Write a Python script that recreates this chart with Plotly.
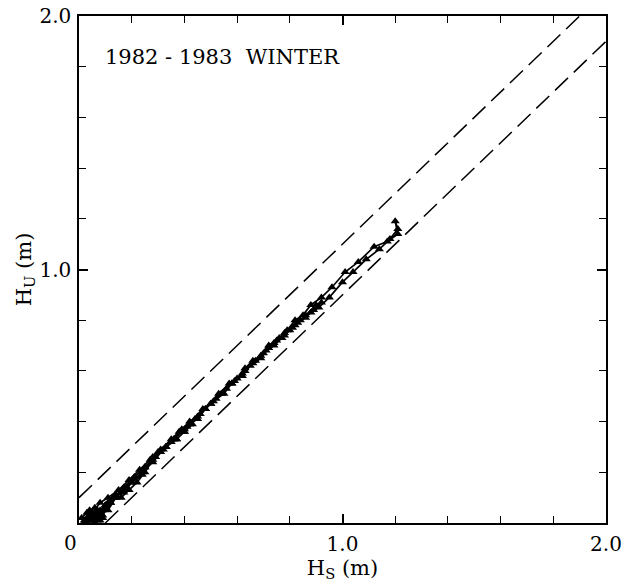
import plotly.graph_objects as go

# Time-ordered trajectory of H_S (x) vs H_U (y), metres
HS = [0.02, 0.04, 0.03, 0.06, 0.05, 0.08, 0.07, 0.10, 0.09, 0.12, 0.11, 0.14, 0.16, 0.19, 0.22,
      0.25, 0.28, 0.30, 0.33, 0.37, 0.40, 0.42, 0.45, 0.48, 0.51, 0.55, 0.58, 0.62, 0.65, 0.69,
      0.72, 0.75, 0.78, 0.81, 0.84, 0.88, 0.91, 0.95, 1.00, 1.04, 1.09, 1.14, 1.18, 1.21, 1.20,
      1.21, 1.17, 1.12, 1.06, 1.01, 0.96, 0.92, 0.88, 0.85, 0.82, 0.79, 0.76, 0.72, 0.69, 0.66,
      0.63, 0.60, 0.57, 0.53, 0.50, 0.47, 0.44, 0.41, 0.38, 0.35, 0.31, 0.28, 0.24, 0.20, 0.17,
      0.13, 0.10, 0.07, 0.05, 0.03, 0.05, 0.08, 0.11, 0.15, 0.19, 0.23, 0.27, 0.31, 0.35, 0.39,
      0.42, 0.46, 0.50, 0.54, 0.58, 0.62, 0.66, 0.70, 0.74, 0.78, 0.82, 0.86, 0.90, 0.92, 0.89,
      0.86, 0.83, 0.80, 0.77, 0.74, 0.71, 0.67, 0.63, 0.59, 0.56, 0.52, 0.48, 0.45, 0.42, 0.39,
      0.36, 0.33, 0.29, 0.25, 0.21, 0.17, 0.13, 0.10, 0.07, 0.04, 0.06, 0.09, 0.12, 0.16, 0.20,
      0.24, 0.28, 0.32, 0.36, 0.40, 0.43, 0.40, 0.37, 0.33, 0.29, 0.25, 0.21, 0.18, 0.14, 0.11,
      0.08, 0.06, 0.04, 0.02, 0.03, 0.05, 0.07, 0.09, 0.06, 0.04, 0.01, 0.03, 0.06, 0.08, 0.05,
      0.02, 0.04, 0.07]
HU = [0.01, 0.02, 0.00, 0.03, 0.01, 0.04, 0.02, 0.06, 0.03, 0.08, 0.05, 0.10, 0.10, 0.13, 0.16,
      0.20, 0.25, 0.28, 0.30, 0.33, 0.36, 0.39, 0.41, 0.45, 0.48, 0.51, 0.55, 0.58, 0.62, 0.65,
      0.69, 0.72, 0.74, 0.77, 0.80, 0.83, 0.85, 0.89, 0.95, 0.99, 1.04, 1.08, 1.12, 1.16, 1.19,
      1.14, 1.11, 1.09, 1.03, 0.99, 0.93, 0.89, 0.86, 0.82, 0.80, 0.76, 0.73, 0.70, 0.66, 0.64,
      0.61, 0.57, 0.55, 0.51, 0.47, 0.45, 0.41, 0.38, 0.36, 0.32, 0.28, 0.26, 0.19, 0.16, 0.12,
      0.10, 0.07, 0.04, 0.02, 0.01, 0.04, 0.08, 0.10, 0.13, 0.17, 0.21, 0.25, 0.29, 0.33, 0.37,
      0.40, 0.43, 0.47, 0.51, 0.55, 0.59, 0.63, 0.67, 0.71, 0.75, 0.78, 0.82, 0.86, 0.87, 0.84,
      0.81, 0.79, 0.76, 0.73, 0.70, 0.68, 0.64, 0.60, 0.56, 0.53, 0.49, 0.45, 0.42, 0.39, 0.36,
      0.33, 0.30, 0.26, 0.22, 0.18, 0.14, 0.10, 0.07, 0.04, 0.02, 0.03, 0.05, 0.08, 0.12, 0.16,
      0.20, 0.24, 0.29, 0.33, 0.37, 0.39, 0.36, 0.33, 0.30, 0.26, 0.22, 0.18, 0.14, 0.11, 0.08,
      0.05, 0.03, 0.02, 0.00, 0.02, 0.03, 0.05, 0.02, 0.00, 0.01, 0.02, 0.04, 0.06, 0.01, 0.03,
      0.00, 0.05, 0.01]

# Dashed envelope lines
UPPER_X = [0.0, 1.9]
UPPER_Y = [0.1, 2.0]
LOWER_X = [0.1, 2.0]
LOWER_Y = [0.0, 1.9]

TITLE = "1982 - 1983  WINTER"
MAJOR_TICKS = [1.0, 2.0]
MAJOR_LABELS = ["1.0", "2.0"]

FONT = "DejaVu Serif"

fig = go.Figure()
fig.add_trace(go.Scatter(x=UPPER_X, y=UPPER_Y, mode="lines",
                         line=dict(color="black", width=1.5, dash="18px,8px"),
                         hoverinfo="skip", showlegend=False))
fig.add_trace(go.Scatter(x=LOWER_X, y=LOWER_Y, mode="lines",
                         line=dict(color="black", width=1.5, dash="18px,8px"),
                         hoverinfo="skip", showlegend=False))
fig.add_trace(go.Scatter(x=HS, y=HU, mode="lines+markers",
                         line=dict(color="black", width=1.7),
                         marker=dict(color="black", size=8, symbol="triangle-up"),
                         showlegend=False))

axis_common = dict(
    range=[0, 2.0], showgrid=False, zeroline=False, automargin=False,
    showline=True, linecolor="black", linewidth=1.5, mirror="ticks",
    ticks="inside", ticklen=9, tickwidth=1.5, tickcolor="black",
    tickvals=MAJOR_TICKS, ticktext=MAJOR_LABELS,
    minor=dict(dtick=0.2, ticks="inside", ticklen=7, tickwidth=1.2, tickcolor="black", showgrid=False),
    tickfont=dict(family=FONT, size=20, color="black"),
    fixedrange=True,
)

fig.update_xaxes(**axis_common,
                 title=dict(text="H<sub>S</sub> (m)", font=dict(family=FONT, size=21, color="black"), standoff=0),
                 ticklabelstandoff=2)
fig.update_yaxes(**axis_common,
                 title=dict(text="H<sub>U</sub> (m)", font=dict(family=FONT, size=21, color="black"), standoff=2),
                 ticklabelstandoff=2)

fig.add_annotation(text=TITLE, xref="x", yref="y", x=0.09, y=1.84, xanchor="left", yanchor="middle",
                   showarrow=False, font=dict(family=FONT, size=21, color="black"))
fig.add_annotation(text="0", xref="paper", yref="paper", x=-0.017, y=-0.012, xanchor="center", yanchor="top",
                   showarrow=False, font=dict(family=FONT, size=20, color="black"))

fig.update_layout(width=627, height=583, margin=dict(l=79, r=21, t=16, b=60),
                  paper_bgcolor="white", plot_bgcolor="white",
                  font=dict(family=FONT, color="black"))

fig.write_html("out.html", config={"displayModeBar": False},
               post_script="document.body.style.margin='0px';")
